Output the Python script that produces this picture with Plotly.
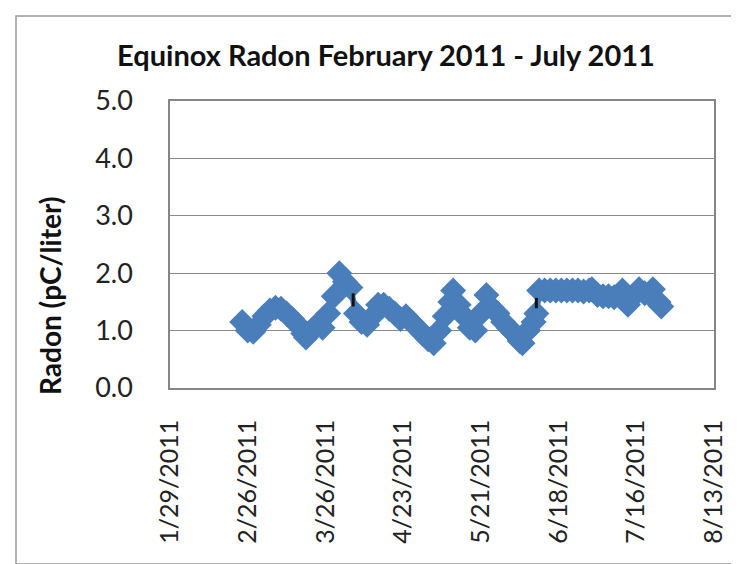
import plotly.graph_objects as go

# ---- data ----
dates = [
    "2011-02-24", "2011-02-26", "2011-02-28", "2011-03-02", "2011-03-04", "2011-03-06",
    "2011-03-08", "2011-03-10", "2011-03-12", "2011-03-14", "2011-03-16", "2011-03-18",
    "2011-03-19", "2011-03-21", "2011-03-23", "2011-03-25", "2011-03-27", "2011-03-29",
    "2011-03-31", "2011-04-02", "2011-04-04", "2011-04-06", "2011-04-08", "2011-04-10",
    "2011-04-12", "2011-04-14", "2011-04-16", "2011-04-18", "2011-04-20", "2011-04-22",
    "2011-04-24", "2011-04-26", "2011-04-28", "2011-04-30", "2011-05-02", "2011-05-04",
    "2011-05-06", "2011-05-08", "2011-05-10", "2011-05-11", "2011-05-13", "2011-05-15",
    "2011-05-17", "2011-05-19", "2011-05-21", "2011-05-23", "2011-05-25", "2011-05-27",
    "2011-05-29", "2011-05-31", "2011-06-02", "2011-06-04", "2011-06-05", "2011-06-07",
    "2011-06-09", "2011-06-10", "2011-06-11", "2011-06-13", "2011-06-15", "2011-06-17",
    "2011-06-19", "2011-06-21", "2011-06-23", "2011-06-25", "2011-06-27", "2011-06-29",
    "2011-06-30", "2011-07-02", "2011-07-04", "2011-07-06", "2011-07-08", "2011-07-10",
    "2011-07-11", "2011-07-13", "2011-07-15", "2011-07-17", "2011-07-19", "2011-07-21",
    "2011-07-22", "2011-07-24", "2011-07-25",
]
radon = [
    1.15, 1.00, 0.98, 1.10, 1.25, 1.35,
    1.40, 1.38, 1.30, 1.20, 1.10, 0.95,
    0.88, 1.00, 1.10, 1.05, 1.30, 1.60,
    2.00, 1.85, 1.75, 1.30, 1.15, 1.10,
    1.25, 1.45, 1.45, 1.38, 1.30, 1.20,
    1.25, 1.15, 1.05, 0.95, 0.85, 0.78,
    1.00, 1.25, 1.50, 1.70, 1.45, 1.25,
    1.05, 1.00, 1.30, 1.62, 1.40, 1.30,
    1.15, 1.05, 0.95, 0.82, 0.78, 1.00,
    1.15, 1.30, 1.70, 1.70, 1.70, 1.70,
    1.70, 1.70, 1.70, 1.70, 1.68, 1.70,
    1.72, 1.62, 1.60, 1.60, 1.58, 1.60,
    1.70, 1.45, 1.60, 1.72, 1.65, 1.62,
    1.72, 1.50, 1.42,
]

# short dark connector pieces visible between marker clusters
connector_dates = ["2011-04-05", "2011-04-05", None, "2011-06-10", "2011-06-10"]
connector_vals = [1.65, 1.42, None, 1.57, 1.39]

x_ticks = ["2011-01-29", "2011-02-26", "2011-03-26", "2011-04-23",
           "2011-05-21", "2011-06-18", "2011-07-16", "2011-08-13"]
x_tick_text = ["1/29/2011", "2/26/2011", "3/26/2011", "4/23/2011",
               "5/21/2011", "6/18/2011", "7/16/2011", "8/13/2011"]
y_ticks = [0, 1, 2, 3, 4, 5]

title_text = "Equinox Radon February 2011 - July 2011"
y_title = "Radon (pC/liter)"

BLUE = "#4A7EBB"
FONT = "Lato"

fig = go.Figure()
fig.add_trace(go.Scatter(
    x=dates, y=radon, mode="lines+markers",
    line=dict(color=BLUE, width=6),
    marker=dict(symbol="diamond", size=20, color=BLUE),
    showlegend=False, hoverinfo="x+y",
))
fig.add_trace(go.Scatter(
    x=connector_dates, y=connector_vals, mode="lines",
    line=dict(color="#111111", width=3), connectgaps=False,
    showlegend=False, hoverinfo="skip",
))

fig.update_layout(
    width=739, height=564,
    margin=dict(l=162, r=33, t=93, b=184),
    paper_bgcolor="white", plot_bgcolor="white",
    title=dict(text="<b>" + title_text + "</b>", x=378 / 739, xref="container",
               xanchor="center", y=1 - 48 / 564, yanchor="middle",
               font=dict(family=FONT, size=29, color="#111111")),
    font=dict(family=FONT, color="#222222"),
    shapes=[dict(type="rect", xref="paper", yref="paper",
                 x0=(8 - 162) / 544, x1=(731 - 162) / 544,
                 y0=(380 - 556) / 287, y1=(380 - 8) / 287,
                 line=dict(color="#9a9a9a", width=1.5), fillcolor="rgba(0,0,0,0)",
                 layer="below")],
    annotations=[dict(text="<b>" + y_title + "</b>", xref="paper", yref="paper",
                      x=(42 - 162) / 544, y=(380 - 288) / 287, textangle=-90,
                      showarrow=False, xanchor="center", yanchor="middle",
                      font=dict(family=FONT, size=28, color="#111111"))],
)
fig.update_xaxes(
    type="date", range=["2011-01-29", "2011-08-13"],
    tickvals=x_ticks, ticktext=x_tick_text, tickangle=-90,
    tickfont=dict(family=FONT, size=25, color="#222222"),
    showgrid=False, showline=True, linecolor="#868686", linewidth=1.5, mirror=True,
    ticks="", ticklabelstandoff=20, zeroline=False,
)
fig.update_yaxes(
    range=[0, 5], tickvals=y_ticks, tickformat=".1f",
    tickfont=dict(family=FONT, size=27, color="#222222"),
    showgrid=True, gridcolor="#8a8a8a", gridwidth=1,
    showline=True, linecolor="#868686", linewidth=1.5, mirror=True,
    ticks="", ticklabelstandoff=30, zeroline=False,
)

fig.write_html("out.html")
